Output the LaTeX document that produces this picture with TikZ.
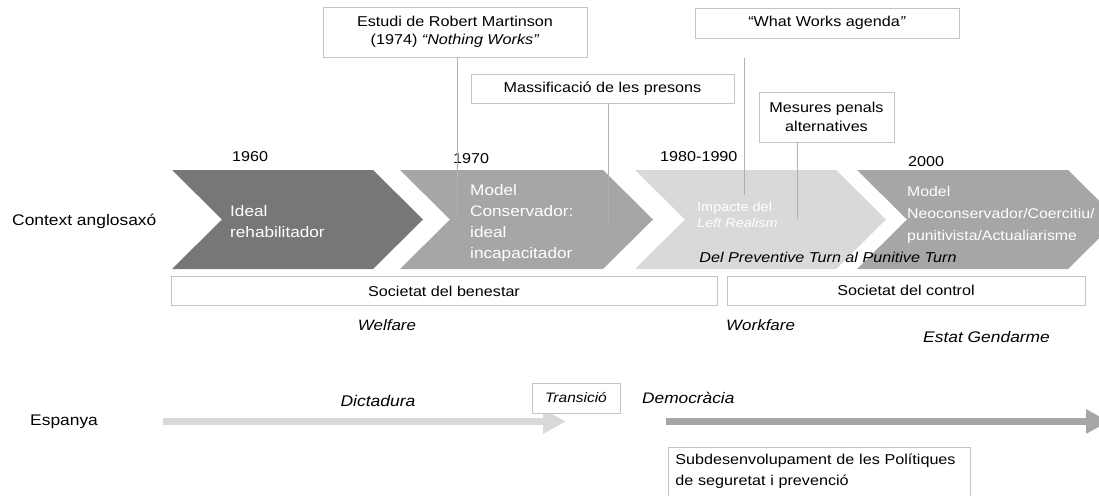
\documentclass[tikz,border=0pt]{standalone}
\usepackage{fontspec}
\setmainfont{Liberation Sans}[FakeStretch=1.13]
\usetikzlibrary{arrows.meta}

\definecolor{chevdark}{HTML}{777777}
\definecolor{chevmid}{HTML}{A6A6A6}
\definecolor{chevlight}{HTML}{D9D9D9}
\definecolor{boxline}{HTML}{C4C4C4}
\definecolor{linkgray}{HTML}{B0B0B0}

% left edge, right edge, colour
\newcommand{\chevron}[3]{%
  \fill[#3] (#1,170) -- (#2,170) -- (#2+50,219.5) -- (#2,269) -- (#1,269) -- (#1+50,219.5) -- cycle;}

\begin{document}
\begin{tikzpicture}[x=1pt,y=-1pt,
    year/.style={anchor=base west,inner sep=0,font=\fontsize{14.3}{17}\selectfont},
    rowlabel/.style={anchor=base west,inner sep=0,font=\fontsize{15.4}{18}\selectfont},
    era/.style={anchor=base,inner sep=0,font=\fontsize{15}{18}\selectfont\itshape},
    chevtext/.style={anchor=north west,inner sep=0,align=left,text=white,font=\fontsize{15.2}{21}\selectfont},
    notebox/.style={draw=boxline,fill=white,line width=0.8pt,align=center,inner sep=2pt,font=\fontsize{14.3}{18.5}\selectfont},
    link/.style={draw=linkgray,line width=0.8pt},
    timebar/.style={line width=7pt,-{Triangle[length=23pt,width=23pt]}}]
 \useasboundingbox (0,0) rectangle (1099,495);
 \clip (0,0) rectangle (1099,495);

 % context anglosaxo
    \chevron{172}{373}{chevdark}
    \chevron{400}{603}{chevmid}
    \chevron{635}{836}{chevlight}
    \chevron{857}{1068}{chevmid}

    \node[year] (y1960) at (232,161) {1960};
    \node[year] (y1970) at (453,163) {1970};
    \node[year] (y1980) at (660,161) {1980-1990};
    \node[year] (y2000) at (908,166) {2000};

    \node[rowlabel] (anglosaxo) at (12,225) {Context anglosaxó};

    \node[chevtext] (ideal) at (230,205) {Ideal\\rehabilitador};
    \node[chevtext] (conservador) at (470,184.5) {Model\\Conservador:\\ideal\\incapacitador};
    \node[chevtext,font=\fontsize{12.8}{16}\selectfont] (realism) at (697,202) {Impacte del\\\textit{Left Realism}};
    \node[chevtext,font=\fontsize{14}{22}\selectfont] (neocons) at (907,186) {Model\\Neoconservador/Coercitiu/\\punitivista/Actualiarisme};
    \node[era,font=\fontsize{14.3}{17}\selectfont\itshape] (turn) at (828,262) {Del Preventive Turn al Punitive Turn};

    \node[notebox,minimum width=264pt,minimum height=50pt] (martinson) at (455,32) {Estudi de Robert Martinson\\(1974) \textit{“Nothing Works”}};
    \node[notebox,minimum width=263pt,minimum height=29pt] (massificacio) at (602.5,88.5) {Massificació de les presons};
    \node[notebox,minimum width=264pt,minimum height=30pt] (whatworks) at (827,23) {“What Works agenda\textit{”}};
    \node[notebox,minimum width=135pt,minimum height=50pt] (mesures) at (826.5,117) {Mesures penals\\alternatives};

    \coordinate (martinson-foot) at (457,216);
    \coordinate (massificacio-foot) at (608,223);
    \coordinate (whatworks-top) at (744,58);
    \coordinate (whatworks-foot) at (744,195);
    \coordinate (mesures-foot) at (797,219);
    \draw[link] (martinson.south -| martinson-foot) -- (martinson-foot);
    \draw[link] (massificacio.south -| massificacio-foot) -- (massificacio-foot);
    \draw[link] (whatworks-top) -- (whatworks-foot);
    \draw[link] (mesures.south -| mesures-foot) -- (mesures-foot);

    \node[notebox,minimum width=546pt,minimum height=29pt] (benestar) at (444,291) {Societat del benestar};
    \node[notebox,minimum width=358pt,minimum height=29pt] (control) at (906,290.5) {Societat del control};

    \node[era] (welfare) at (387,330) {Welfare};
    \node[era,anchor=base west] (workfare) at (726,330) {Workfare};
    \node[era,anchor=base west,font=\fontsize{15.4}{18}\selectfont\itshape] (gendarme) at (923,342) {Estat Gendarme};

 % espanya
    \node[rowlabel] (espanya) at (30,425) {Espanya};

    \coordinate (dictadura-start) at (163,421.5);
    \coordinate (dictadura-end) at (566,421.5);
    \coordinate (democracia-start) at (666,421.5);
    \coordinate (democracia-end) at (1109,421.5);
    \draw[timebar,color=chevlight] (dictadura-start) -- (dictadura-end);
    \draw[timebar,color=chevmid] (democracia-start) -- (democracia-end);

    \node[era,font=\fontsize{15.5}{18}\selectfont\itshape] (dictadura) at (378,406) {Dictadura};
    \node[notebox,minimum width=88pt,minimum height=30pt,font=\fontsize{13.7}{16}\selectfont\itshape] (transicio) at (576,398) {Transició};
    \node[era,anchor=base west,font=\fontsize{15.3}{18}\selectfont\itshape] (democracia) at (642,403) {Democràcia};

    \node[notebox,anchor=north west,align=left,text width=288pt,inner xsep=7pt,inner ysep=6.5pt,text depth=40pt,font=\fontsize{14.3}{21}\selectfont] (subdesenv) at (668,447) {Subdesenvolupament de les Polítiques\\de seguretat i prevenció};

   \end{tikzpicture}
\end{document}
